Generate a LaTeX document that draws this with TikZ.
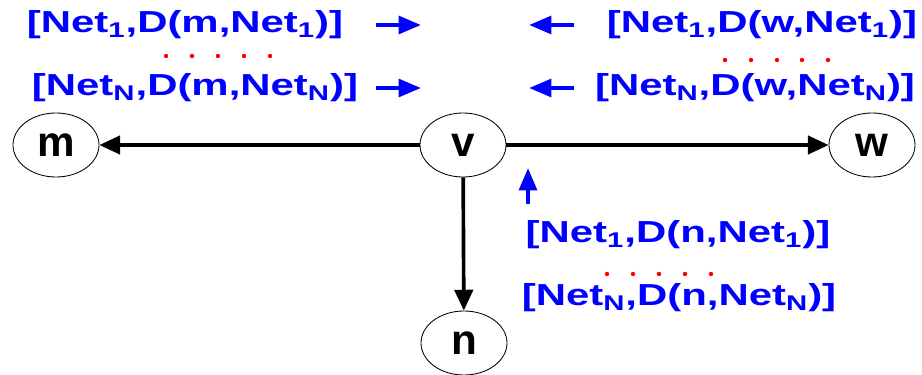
\documentclass[tikz,border=0pt]{standalone}
\usepackage{graphicx}
\usepackage{fontspec}
\setmainfont{Liberation Sans}
\usetikzlibrary{arrows.meta,shapes.geometric}

\newcommand{\nt}[1]{Net\textsubscript{#1}}
\newcommand{\dpair}[2]{\scalebox{1.38}[1]{[\nt{#2},D(#1,\nt{#2})]}}

\begin{document}
\begin{tikzpicture}[x=0.025cm,y=-0.025cm,>={Triangle[length=0.52cm,width=0.46cm]},
  vertex/.style={draw,ellipse,line width=0.6pt,minimum width=2.15cm,minimum height=1.6cm,inner sep=0pt,font=\fontsize{30}{30}\selectfont\bfseries},
  msg/.style={text=blue,inner sep=0pt,font=\fontsize{21.6}{22}\selectfont\bfseries},
  flow/.style={line width=2.6pt,->},
  info/.style={draw=blue,line width=3pt,-{Triangle[length=0.56cm,width=0.44cm]}},
  dot/.style={fill=red,circle,inner sep=0pt,minimum size=0.11cm}]
\useasboundingbox (0,0) rectangle (922,375);

\node[vertex] (m) at (56,145) {m};
\node[vertex] (v) at (463,145) {v};
\node[vertex] (w) at (872,145) {w};
\node[vertex] (n) at (464,343) {n};

\draw[flow] (v) -- (m);
\draw[flow] (v) -- (w);
\draw[flow] (v) -- (n);

% messages from m
\node[msg] (m1) at (185,25) {\dpair{m}{1}};
\node[msg] (mN) at (195,88) {\dpair{m}{N}};
\coordinate (m1a) at (376,25); \coordinate (m1b) at (421,25);
\coordinate (mNa) at (376,88); \coordinate (mNb) at (421,88);
\draw[info] (m1a) -- (m1b);
\draw[info] (mNa) -- (mNb);
\foreach \x in {166,192,218,244,270} \node[dot] at (\x,56) {};

% messages from w
\node[msg] (w1) at (762,25) {\dpair{w}{1}};
\node[msg] (wN) at (755,88) {\dpair{w}{N}};
\coordinate (w1a) at (574,25); \coordinate (w1b) at (529,25);
\coordinate (wNa) at (574,88); \coordinate (wNb) at (529,88);
\draw[info] (w1a) -- (w1b);
\draw[info] (wNa) -- (wNb);
\foreach \x in {725,751,777,802,828} \node[dot] at (\x,60) {};

% messages from n
\node[msg] (n1) at (678,235) {\dpair{n}{1}};
\node[msg] (nN) at (679,298) {\dpair{n}{N}};
\coordinate (na) at (528,204); \coordinate (nb) at (528,168);
\draw[info] (na) -- (nb);
\foreach \x in {607,633,659,685,711} \node[dot] at (\x,274) {};
\end{tikzpicture}
\end{document}
